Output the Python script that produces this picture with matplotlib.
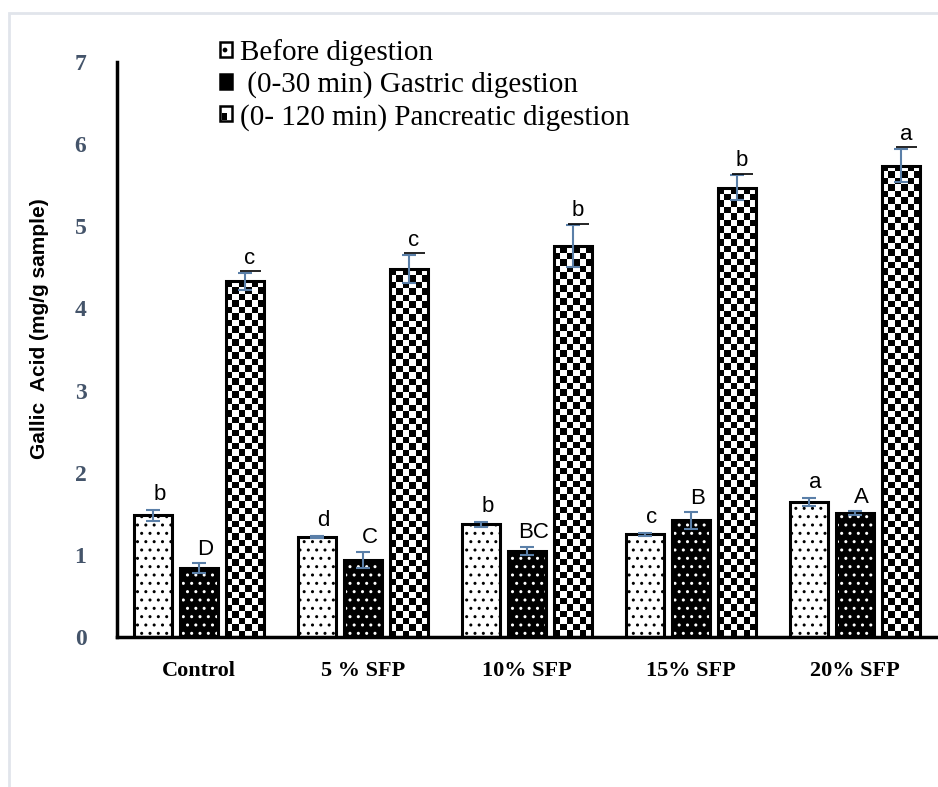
import numpy as np
import matplotlib
matplotlib.use('Agg')
import matplotlib.pyplot as plt
from matplotlib.patches import Patch, Rectangle
from matplotlib.legend_handler import HandlerPatch

plt.rcParams['hatch.linewidth'] = 1.0

# ---- data ----
groups = ['Control', '5 % SFP', '10% SFP', '15% SFP', '20% SFP']
series = ['Before digestion', ' (0-30 min) Gastric digestion', '(0- 120 min) Pancreatic digestion']
before = [1.48, 1.22, 1.37, 1.25, 1.64]
gastric = [0.84, 0.94, 1.05, 1.42, 1.51]
pancreatic = [4.33, 4.48, 4.76, 5.47, 5.74]
before_err = [0.07, 0.01, 0.03, 0.02, 0.05]
gastric_err = [0.06, 0.10, 0.05, 0.10, 0.02]
pancreatic_err = [0.10, 0.17, 0.25, 0.15, 0.20]
before_lab = ['b', 'd', 'b', 'c', 'a']
gastric_lab = ['D', 'C', 'BC', 'B', 'A']
pancreatic_lab = ['c', 'c', 'b', 'b', 'a']

errcol = '#5a7fa8'
tickcol = '#44546a'

fig = plt.figure(figsize=[9.38, 7.87], dpi=100)
# light grey frame around the picture
fig.patches.append(Rectangle((9/938, -0.01), 1.0, 1 - 13/787 + 0.01, transform=fig.transFigure,
                             fill=False, edgecolor='#e1e5eb', linewidth=2))
ax = fig.add_axes([117/938, 150/787, (937-117)/938, (638-63)/787])

x = np.arange(len(groups))
w = 0.235
off = 0.28


def checker(ax, bar, cell=6.5):
    # checkerboard fill clipped to the bar
    x0, y0 = bar.get_x(), bar.get_y()
    bw, bh = bar.get_width(), bar.get_height()
    p = ax.transData.transform([[x0, y0], [x0 + bw, y0 + bh]])
    nx = max(1, int(round(abs(p[1, 0] - p[0, 0]) / cell)))
    ny = max(1, int(round(abs(p[1, 1] - p[0, 1]) / cell)))
    ii, jj = np.indices((ny, nx))
    img = (ii + jj) % 2
    im = ax.imshow(img, extent=[x0, x0 + bw, y0, y0 + bh], cmap='gray', vmin=0, vmax=1,
                   interpolation='nearest', aspect='auto', origin='lower', zorder=2)
    im.set_clip_path(bar)


ax.set_xlim(-0.5, 4.5)
ax.set_ylim(0, 7)

b1 = ax.bar(x - off, before, w, color='white', edgecolor='black', hatch='..', linewidth=0, zorder=2)
ax.bar(x - off, before, w, fill=False, edgecolor='black', linewidth=2.2, zorder=3)

b2 = ax.bar(x, gastric, w, color='black', edgecolor='white', hatch='..', linewidth=0, zorder=2)
ax.bar(x, gastric, w, fill=False, edgecolor='black', linewidth=2.2, zorder=3)

b3 = ax.bar(x + off, pancreatic, w, color='white', edgecolor='none', linewidth=0, zorder=1)
for bar in b3:
    checker(ax, bar)
ax.bar(x + off, pancreatic, w, fill=False, edgecolor='black', linewidth=2.2, zorder=3)

ax.set_xlim(-0.5, 4.5)
ax.set_ylim(0, 7)

for xs, vals, errs in [(x - off, before, before_err), (x, gastric, gastric_err), (x + off, pancreatic, pancreatic_err)]:
    ax.errorbar(xs, vals, yerr=errs, fmt='none', ecolor=errcol, elinewidth=1.5, capsize=5, capthick=1.5, zorder=4)

# significance letters
for i in range(len(groups)):
    ax.text(x[i] - off + 0.04, before[i] + before_err[i] + 0.06, before_lab[i], ha='center', va='bottom',
            fontsize=16, family='Liberation Sans', zorder=5)
    ax.text(x[i] + 0.04, gastric[i] + gastric_err[i] + 0.04, gastric_lab[i], ha='center', va='bottom',
            fontsize=16, family='Liberation Sans', zorder=5)
    top = pancreatic[i] + pancreatic_err[i]
    ax.text(x[i] + off + 0.03, top + 0.05, pancreatic_lab[i], ha='center', va='bottom',
            fontsize=16, family='Liberation Sans', zorder=5)
    # underline under the letter
    ax.hlines(top + 0.02, x[i] + off - 0.03, x[i] + off + 0.1, color='black', lw=1.2, zorder=5)

for s in ['top', 'right']:
    ax.spines[s].set_visible(False)
ax.spines['left'].set_linewidth(2.5)
ax.spines['bottom'].set_linewidth(2.5)

ax.set_xticks(x)
ax.set_xticklabels(groups, fontsize=16, fontweight='bold', family='Liberation Serif')
ax.set_yticks(range(8))
ax.set_yticklabels([str(v) for v in range(8)], fontsize=17, fontweight='bold', family='Liberation Serif', color=tickcol)
ax.tick_params(axis='x', length=0, pad=17)
ax.tick_params(axis='y', length=0, pad=22)

ax.set_ylabel('Gallic  Acid (mg/g sample)', fontsize=15, fontweight='bold', family='Liberation Sans')
ax.yaxis.set_label_coords(-0.083, 0.537)


class CheckerHandler(HandlerPatch):
    def create_artists(self, legend, orig_handle, xdescent, ydescent, width, height, fontsize, trans):
        r = Rectangle((-xdescent, -ydescent), width, height, facecolor='white', edgecolor='black', lw=1.8, transform=trans)
        q = Rectangle((-xdescent + width * 0.12, -ydescent + height * 0.12), width * 0.45, height * 0.45,
                      facecolor='black', edgecolor='none', transform=trans)
        return [r, q]


h1 = Patch(facecolor='white', edgecolor='black', hatch='.', linewidth=1.8)
h2 = Patch(facecolor='black', edgecolor='black', linewidth=1.8)
h3 = Patch(facecolor='white', edgecolor='black')
leg = ax.legend([h1, h2, h3], series, loc='upper left', bbox_to_anchor=(0.1115, 1.06), frameon=False,
                prop={'family': 'Liberation Serif', 'size': 21}, handlelength=0.42, handleheight=0.42,
                handletextpad=0.25, labelspacing=0.18, borderaxespad=0,
                handler_map={h3: CheckerHandler()})

plt.savefig('out.png', dpi=100)
